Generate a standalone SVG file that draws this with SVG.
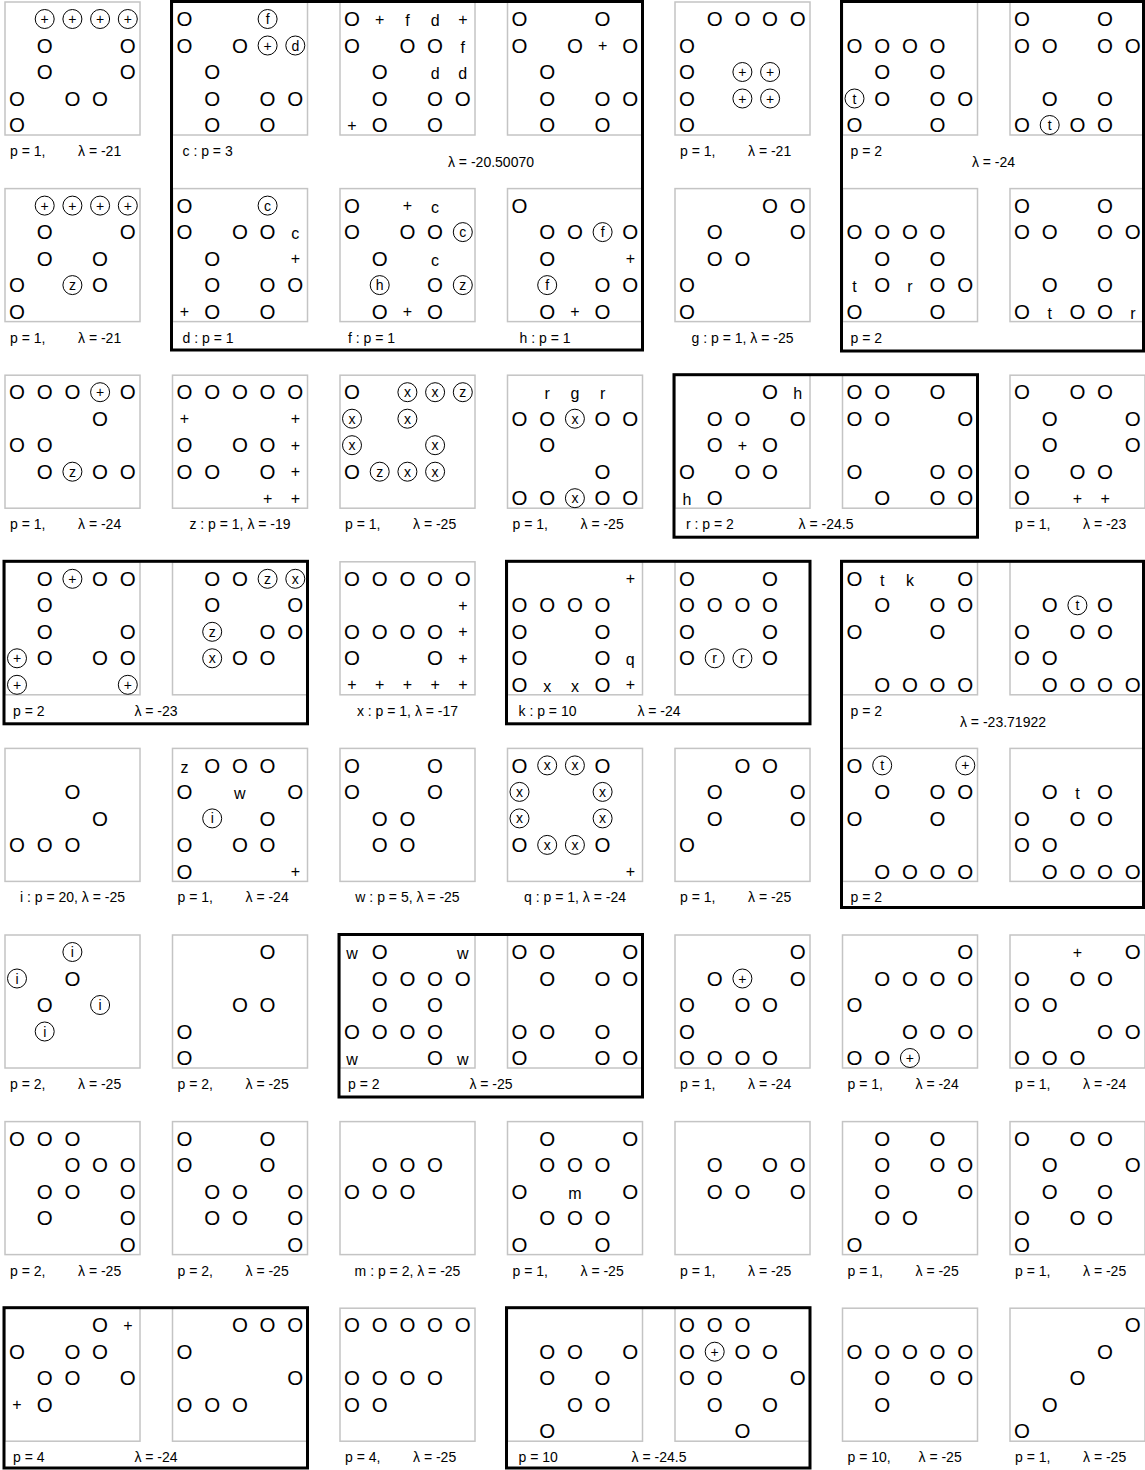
<svg xmlns="http://www.w3.org/2000/svg" width="1145" height="1470" viewBox="0 0 1145 1470">
<style>
text{font-family:"Liberation Sans",Arial,sans-serif;fill:#000}
.o{font-size:20.5px;text-anchor:middle}
.p{font-size:16px;text-anchor:middle;dominant-baseline:central}
.l{font-size:16px;text-anchor:middle}
.c{fill:#fff;stroke:#000;stroke-width:1}
.t{font-size:14px;text-anchor:middle;dominant-baseline:central}
.lb{font-size:14px}
.m{text-anchor:middle}
.b{fill:#fff;stroke:#c4c4c4;stroke-width:1.5}
.f{fill:none;stroke:#000;stroke-width:3}
</style>
<rect width="1145" height="1470" fill="#fff"/>
<g id="nodes">
<!-- Row 1 -->
<g id="r1c1" transform="translate(5,2)"><rect class="b" width="135" height="133"/>
<circle class="c" cx="39.7" cy="17" r="9.5"/><text class="t" x="39.7" y="17">+</text>
<circle class="c" cx="67.4" cy="17" r="9.5"/><text class="t" x="67.4" y="17">+</text>
<circle class="c" cx="95.1" cy="17" r="9.5"/><text class="t" x="95.1" y="17">+</text>
<circle class="c" cx="122.8" cy="17" r="9.5"/><text class="t" x="122.8" y="17">+</text>
<text class="o" x="39.7" y="50.7">O</text><text class="o" x="122.8" y="50.7">O</text>
<text class="o" x="39.7" y="77.2">O</text><text class="o" x="122.8" y="77.2">O</text>
<text class="o" x="12" y="103.7">O</text><text class="o" x="67.4" y="103.7">O</text><text class="o" x="95.1" y="103.7">O</text>
<text class="o" x="12" y="130.2">O</text>
<text class="lb" x="5" y="154">p = 1,</text><text class="lb" x="73" y="154">λ = -21</text>
</g>
<g id="r1c2" transform="translate(172.5,2)"><rect class="b" width="135" height="133"/>
<text class="o" x="12" y="24.2">O</text><circle class="c" cx="95.1" cy="17" r="9.5"/><text class="t" x="95.1" y="17">f</text>
<text class="o" x="12" y="50.7">O</text><text class="o" x="67.4" y="50.7">O</text><circle class="c" cx="95.1" cy="43.5" r="9.5"/><text class="t" x="95.1" y="43.5">+</text><circle class="c" cx="122.8" cy="43.5" r="9.5"/><text class="t" x="122.8" y="43.5">d</text>
<text class="o" x="39.7" y="77.2">O</text>
<text class="o" x="39.7" y="103.7">O</text><text class="o" x="95.1" y="103.7">O</text><text class="o" x="122.8" y="103.7">O</text>
<text class="o" x="39.7" y="130.2">O</text><text class="o" x="95.1" y="130.2">O</text>
<text class="lb" x="10" y="154">c : p = 3</text>
</g>
<g id="r1c3" transform="translate(340,2)"><rect class="b" width="135" height="133"/>
<text class="o" x="12" y="24.2">O</text><text class="p" x="39.7" y="17">+</text><text class="l" x="67.4" y="24.2">f</text><text class="l" x="95.1" y="24.2">d</text><text class="p" x="122.8" y="17">+</text>
<text class="o" x="12" y="50.7">O</text><text class="o" x="67.4" y="50.7">O</text><text class="o" x="95.1" y="50.7">O</text><text class="l" x="122.8" y="50.7">f</text>
<text class="o" x="39.7" y="77.2">O</text><text class="l" x="95.1" y="77.2">d</text><text class="l" x="122.8" y="77.2">d</text>
<text class="o" x="39.7" y="103.7">O</text><text class="o" x="95.1" y="103.7">O</text><text class="o" x="122.8" y="103.7">O</text>
<text class="p" x="12" y="123">+</text><text class="o" x="39.7" y="130.2">O</text><text class="o" x="95.1" y="130.2">O</text>
</g>
<g id="r1c4" transform="translate(507.5,2)"><rect class="b" width="135" height="133"/>
<text class="o" x="12" y="24.2">O</text><text class="o" x="95.1" y="24.2">O</text>
<text class="o" x="12" y="50.7">O</text><text class="o" x="67.4" y="50.7">O</text><text class="p" x="95.1" y="43.5">+</text><text class="o" x="122.8" y="50.7">O</text>
<text class="o" x="39.7" y="77.2">O</text>
<text class="o" x="39.7" y="103.7">O</text><text class="o" x="95.1" y="103.7">O</text><text class="o" x="122.8" y="103.7">O</text>
<text class="o" x="39.7" y="130.2">O</text><text class="o" x="95.1" y="130.2">O</text>
</g>
<g id="r1c5" transform="translate(675,2)"><rect class="b" width="135" height="133"/>
<text class="o" x="39.7" y="24.2">O</text><text class="o" x="67.4" y="24.2">O</text><text class="o" x="95.1" y="24.2">O</text><text class="o" x="122.8" y="24.2">O</text>
<text class="o" x="12" y="50.7">O</text>
<text class="o" x="12" y="77.2">O</text><circle class="c" cx="67.4" cy="70" r="9.5"/><text class="t" x="67.4" y="70">+</text><circle class="c" cx="95.1" cy="70" r="9.5"/><text class="t" x="95.1" y="70">+</text>
<text class="o" x="12" y="103.7">O</text><circle class="c" cx="67.4" cy="96.5" r="9.5"/><text class="t" x="67.4" y="96.5">+</text><circle class="c" cx="95.1" cy="96.5" r="9.5"/><text class="t" x="95.1" y="96.5">+</text>
<text class="o" x="12" y="130.2">O</text>
<text class="lb" x="5" y="154">p = 1,</text><text class="lb" x="73" y="154">λ = -21</text>
</g>
<g id="r1c6" transform="translate(842.5,2)"><rect class="b" width="135" height="133"/>
<text class="o" x="12" y="50.7">O</text><text class="o" x="39.7" y="50.7">O</text><text class="o" x="67.4" y="50.7">O</text><text class="o" x="95.1" y="50.7">O</text>
<text class="o" x="39.7" y="77.2">O</text><text class="o" x="95.1" y="77.2">O</text>
<circle class="c" cx="12" cy="96.5" r="9.5"/><text class="t" x="12" y="96.5">t</text><text class="o" x="39.7" y="103.7">O</text><text class="o" x="95.1" y="103.7">O</text><text class="o" x="122.8" y="103.7">O</text>
<text class="o" x="12" y="130.2">O</text><text class="o" x="95.1" y="130.2">O</text>
<text class="lb" x="8" y="154">p = 2</text>
</g>
<g id="r1c7" transform="translate(1010,2)"><rect class="b" width="135" height="133"/>
<text class="o" x="12" y="24.2">O</text><text class="o" x="95.1" y="24.2">O</text>
<text class="o" x="12" y="50.7">O</text><text class="o" x="39.7" y="50.7">O</text><text class="o" x="95.1" y="50.7">O</text><text class="o" x="122.8" y="50.7">O</text>
<text class="o" x="39.7" y="103.7">O</text><text class="o" x="95.1" y="103.7">O</text>
<text class="o" x="12" y="130.2">O</text><circle class="c" cx="39.7" cy="123" r="9.5"/><text class="t" x="39.7" y="123">t</text><text class="o" x="67.4" y="130.2">O</text><text class="o" x="95.1" y="130.2">O</text>
</g>
<!-- Row 2 -->
<g id="r2c1" transform="translate(5,188.6)"><rect class="b" width="135" height="133"/>
<circle class="c" cx="39.7" cy="17" r="9.5"/><text class="t" x="39.7" y="17">+</text>
<circle class="c" cx="67.4" cy="17" r="9.5"/><text class="t" x="67.4" y="17">+</text>
<circle class="c" cx="95.1" cy="17" r="9.5"/><text class="t" x="95.1" y="17">+</text>
<circle class="c" cx="122.8" cy="17" r="9.5"/><text class="t" x="122.8" y="17">+</text>
<text class="o" x="39.7" y="50.7">O</text><text class="o" x="122.8" y="50.7">O</text>
<text class="o" x="39.7" y="77.2">O</text><text class="o" x="95.1" y="77.2">O</text>
<text class="o" x="12" y="103.7">O</text><circle class="c" cx="67.4" cy="96.5" r="9.5"/><text class="t" x="67.4" y="96.5">z</text><text class="o" x="95.1" y="103.7">O</text>
<text class="o" x="12" y="130.2">O</text>
<text class="lb" x="5" y="154">p = 1,</text><text class="lb" x="73" y="154">λ = -21</text>
</g>
<g id="r2c2" transform="translate(172.5,188.6)"><rect class="b" width="135" height="133"/>
<text class="o" x="12" y="24.2">O</text><circle class="c" cx="95.1" cy="17" r="9.5"/><text class="t" x="95.1" y="17">c</text>
<text class="o" x="12" y="50.7">O</text><text class="o" x="67.4" y="50.7">O</text><text class="o" x="95.1" y="50.7">O</text><text class="l" x="122.8" y="50.7">c</text>
<text class="o" x="39.7" y="77.2">O</text><text class="p" x="122.8" y="70">+</text>
<text class="o" x="39.7" y="103.7">O</text><text class="o" x="95.1" y="103.7">O</text><text class="o" x="122.8" y="103.7">O</text>
<text class="p" x="12" y="123">+</text><text class="o" x="39.7" y="130.2">O</text><text class="o" x="95.1" y="130.2">O</text>
<text class="lb" x="10" y="154">d : p = 1</text>
</g>
<g id="r2c3" transform="translate(340,188.6)"><rect class="b" width="135" height="133"/>
<text class="o" x="12" y="24.2">O</text><text class="p" x="67.4" y="17">+</text><text class="l" x="95.1" y="24.2">c</text>
<text class="o" x="12" y="50.7">O</text><text class="o" x="67.4" y="50.7">O</text><text class="o" x="95.1" y="50.7">O</text><circle class="c" cx="122.8" cy="43.5" r="9.5"/><text class="t" x="122.8" y="43.5">c</text>
<text class="o" x="39.7" y="77.2">O</text><text class="l" x="95.1" y="77.2">c</text>
<circle class="c" cx="39.7" cy="96.5" r="9.5"/><text class="t" x="39.7" y="96.5">h</text><text class="o" x="95.1" y="103.7">O</text><circle class="c" cx="122.8" cy="96.5" r="9.5"/><text class="t" x="122.8" y="96.5">z</text>
<text class="o" x="39.7" y="130.2">O</text><text class="p" x="67.4" y="123">+</text><text class="o" x="95.1" y="130.2">O</text>
<text class="lb" x="8" y="154">f : p = 1</text>
</g>
<g id="r2c4" transform="translate(507.5,188.6)"><rect class="b" width="135" height="133"/>
<text class="o" x="12" y="24.2">O</text>
<text class="o" x="39.7" y="50.7">O</text><text class="o" x="67.4" y="50.7">O</text><circle class="c" cx="95.1" cy="43.5" r="9.5"/><text class="t" x="95.1" y="43.5">f</text><text class="o" x="122.8" y="50.7">O</text>
<text class="o" x="39.7" y="77.2">O</text><text class="p" x="122.8" y="70">+</text>
<circle class="c" cx="39.7" cy="96.5" r="9.5"/><text class="t" x="39.7" y="96.5">f</text><text class="o" x="95.1" y="103.7">O</text><text class="o" x="122.8" y="103.7">O</text>
<text class="o" x="39.7" y="130.2">O</text><text class="p" x="67.4" y="123">+</text><text class="o" x="95.1" y="130.2">O</text>
<text class="lb" x="12" y="154">h : p = 1</text>
</g>
<g id="r2c5" transform="translate(675,188.6)"><rect class="b" width="135" height="133"/>
<text class="o" x="95.1" y="24.2">O</text><text class="o" x="122.8" y="24.2">O</text>
<text class="o" x="39.7" y="50.7">O</text><text class="o" x="122.8" y="50.7">O</text>
<text class="o" x="39.7" y="77.2">O</text><text class="o" x="67.4" y="77.2">O</text>
<text class="o" x="12" y="103.7">O</text>
<text class="o" x="12" y="130.2">O</text>
<text class="lb m" x="67.5" y="154">g : p = 1, λ = -25</text>
</g>
<g id="r2c6" transform="translate(842.5,188.6)"><rect class="b" width="135" height="133"/>
<text class="o" x="12" y="50.7">O</text><text class="o" x="39.7" y="50.7">O</text><text class="o" x="67.4" y="50.7">O</text><text class="o" x="95.1" y="50.7">O</text>
<text class="o" x="39.7" y="77.2">O</text><text class="o" x="95.1" y="77.2">O</text>
<text class="l" x="12" y="103.7">t</text><text class="o" x="39.7" y="103.7">O</text><text class="l" x="67.4" y="103.7">r</text><text class="o" x="95.1" y="103.7">O</text><text class="o" x="122.8" y="103.7">O</text>
<text class="o" x="12" y="130.2">O</text><text class="o" x="95.1" y="130.2">O</text>
<text class="lb" x="8" y="154">p = 2</text>
</g>
<g id="r2c7" transform="translate(1010,188.6)"><rect class="b" width="135" height="133"/>
<text class="o" x="12" y="24.2">O</text><text class="o" x="95.1" y="24.2">O</text>
<text class="o" x="12" y="50.7">O</text><text class="o" x="39.7" y="50.7">O</text><text class="o" x="95.1" y="50.7">O</text><text class="o" x="122.8" y="50.7">O</text>
<text class="o" x="39.7" y="103.7">O</text><text class="o" x="95.1" y="103.7">O</text>
<text class="o" x="12" y="130.2">O</text><text class="l" x="39.7" y="130.2">t</text><text class="o" x="67.4" y="130.2">O</text><text class="o" x="95.1" y="130.2">O</text><text class="l" x="122.8" y="130.2">r</text>
</g>
<!-- Row 3 -->
<g id="r3c1" transform="translate(5,375.2)"><rect class="b" width="135" height="133"/>
<text class="o" x="12" y="24.2">O</text><text class="o" x="39.7" y="24.2">O</text><text class="o" x="67.4" y="24.2">O</text><circle class="c" cx="95.1" cy="17" r="9.5"/><text class="t" x="95.1" y="17">+</text><text class="o" x="122.8" y="24.2">O</text>
<text class="o" x="95.1" y="50.7">O</text>
<text class="o" x="12" y="77.2">O</text><text class="o" x="39.7" y="77.2">O</text>
<text class="o" x="39.7" y="103.7">O</text><circle class="c" cx="67.4" cy="96.5" r="9.5"/><text class="t" x="67.4" y="96.5">z</text><text class="o" x="95.1" y="103.7">O</text><text class="o" x="122.8" y="103.7">O</text>
<text class="lb" x="5" y="154">p = 1,</text><text class="lb" x="73" y="154">λ = -24</text>
</g>
<g id="r3c2" transform="translate(172.5,375.2)"><rect class="b" width="135" height="133"/>
<text class="o" x="12" y="24.2">O</text><text class="o" x="39.7" y="24.2">O</text><text class="o" x="67.4" y="24.2">O</text><text class="o" x="95.1" y="24.2">O</text><text class="o" x="122.8" y="24.2">O</text>
<text class="p" x="12" y="43.5">+</text><text class="p" x="122.8" y="43.5">+</text>
<text class="o" x="12" y="77.2">O</text><text class="o" x="67.4" y="77.2">O</text><text class="o" x="95.1" y="77.2">O</text><text class="p" x="122.8" y="70">+</text>
<text class="o" x="12" y="103.7">O</text><text class="o" x="39.7" y="103.7">O</text><text class="o" x="95.1" y="103.7">O</text><text class="p" x="122.8" y="96.5">+</text>
<text class="p" x="95.1" y="123">+</text><text class="p" x="122.8" y="123">+</text>
<text class="lb m" x="67.5" y="154">z : p = 1, λ = -19</text>
</g>
<g id="r3c3" transform="translate(340,375.2)"><rect class="b" width="135" height="133"/>
<text class="o" x="12" y="24.2">O</text><circle class="c" cx="67.4" cy="17" r="9.5"/><text class="t" x="67.4" y="17">x</text><circle class="c" cx="95.1" cy="17" r="9.5"/><text class="t" x="95.1" y="17">x</text><circle class="c" cx="122.8" cy="17" r="9.5"/><text class="t" x="122.8" y="17">z</text>
<circle class="c" cx="12" cy="43.5" r="9.5"/><text class="t" x="12" y="43.5">x</text><circle class="c" cx="67.4" cy="43.5" r="9.5"/><text class="t" x="67.4" y="43.5">x</text>
<circle class="c" cx="12" cy="70" r="9.5"/><text class="t" x="12" y="70">x</text><circle class="c" cx="95.1" cy="70" r="9.5"/><text class="t" x="95.1" y="70">x</text>
<text class="o" x="12" y="103.7">O</text><circle class="c" cx="39.7" cy="96.5" r="9.5"/><text class="t" x="39.7" y="96.5">z</text><circle class="c" cx="67.4" cy="96.5" r="9.5"/><text class="t" x="67.4" y="96.5">x</text><circle class="c" cx="95.1" cy="96.5" r="9.5"/><text class="t" x="95.1" y="96.5">x</text>
<text class="lb" x="5" y="154">p = 1,</text><text class="lb" x="73" y="154">λ = -25</text>
</g>
<g id="r3c4" transform="translate(507.5,375.2)"><rect class="b" width="135" height="133"/>
<text class="l" x="39.7" y="24.2">r</text><text class="l" x="67.4" y="24.2">g</text><text class="l" x="95.1" y="24.2">r</text>
<text class="o" x="12" y="50.7">O</text><text class="o" x="39.7" y="50.7">O</text><circle class="c" cx="67.4" cy="43.5" r="9.5"/><text class="t" x="67.4" y="43.5">x</text><text class="o" x="95.1" y="50.7">O</text><text class="o" x="122.8" y="50.7">O</text>
<text class="o" x="39.7" y="77.2">O</text>
<text class="o" x="95.1" y="103.7">O</text>
<text class="o" x="12" y="130.2">O</text><text class="o" x="39.7" y="130.2">O</text><circle class="c" cx="67.4" cy="123" r="9.5"/><text class="t" x="67.4" y="123">x</text><text class="o" x="95.1" y="130.2">O</text><text class="o" x="122.8" y="130.2">O</text>
<text class="lb" x="5" y="154">p = 1,</text><text class="lb" x="73" y="154">λ = -25</text>
</g>
<g id="r3c5" transform="translate(675,375.2)"><rect class="b" width="135" height="133"/>
<text class="o" x="95.1" y="24.2">O</text><text class="l" x="122.8" y="24.2">h</text>
<text class="o" x="39.7" y="50.7">O</text><text class="o" x="67.4" y="50.7">O</text><text class="o" x="122.8" y="50.7">O</text>
<text class="o" x="39.7" y="77.2">O</text><text class="p" x="67.4" y="70">+</text><text class="o" x="95.1" y="77.2">O</text>
<text class="o" x="12" y="103.7">O</text><text class="o" x="67.4" y="103.7">O</text><text class="o" x="95.1" y="103.7">O</text>
<text class="l" x="12" y="130.2">h</text><text class="o" x="39.7" y="130.2">O</text>
<text class="lb" x="11" y="154">r : p = 2</text>
</g>
<g id="r3c6" transform="translate(842.5,375.2)"><rect class="b" width="135" height="133"/>
<text class="o" x="12" y="24.2">O</text><text class="o" x="39.7" y="24.2">O</text><text class="o" x="95.1" y="24.2">O</text>
<text class="o" x="12" y="50.7">O</text><text class="o" x="39.7" y="50.7">O</text><text class="o" x="122.8" y="50.7">O</text>
<text class="o" x="12" y="103.7">O</text><text class="o" x="95.1" y="103.7">O</text><text class="o" x="122.8" y="103.7">O</text>
<text class="o" x="39.7" y="130.2">O</text><text class="o" x="95.1" y="130.2">O</text><text class="o" x="122.8" y="130.2">O</text>
</g>
<g id="r3c7" transform="translate(1010,375.2)"><rect class="b" width="135" height="133"/>
<text class="o" x="12" y="24.2">O</text><text class="o" x="67.4" y="24.2">O</text><text class="o" x="95.1" y="24.2">O</text>
<text class="o" x="39.7" y="50.7">O</text><text class="o" x="122.8" y="50.7">O</text>
<text class="o" x="39.7" y="77.2">O</text><text class="o" x="122.8" y="77.2">O</text>
<text class="o" x="12" y="103.7">O</text><text class="o" x="67.4" y="103.7">O</text><text class="o" x="95.1" y="103.7">O</text>
<text class="o" x="12" y="130.2">O</text><text class="p" x="67.4" y="123">+</text><text class="p" x="95.1" y="123">+</text>
<text class="lb" x="5" y="154">p = 1,</text><text class="lb" x="73" y="154">λ = -23</text>
</g>
<!-- Row 4 -->
<g id="r4c1" transform="translate(5,561.8)"><rect class="b" width="135" height="133"/>
<text class="o" x="39.7" y="24.2">O</text><circle class="c" cx="67.4" cy="17" r="9.5"/><text class="t" x="67.4" y="17">+</text><text class="o" x="95.1" y="24.2">O</text><text class="o" x="122.8" y="24.2">O</text>
<text class="o" x="39.7" y="50.7">O</text>
<text class="o" x="39.7" y="77.2">O</text><text class="o" x="122.8" y="77.2">O</text>
<circle class="c" cx="12" cy="96.5" r="9.5"/><text class="t" x="12" y="96.5">+</text><text class="o" x="39.7" y="103.7">O</text><text class="o" x="95.1" y="103.7">O</text><text class="o" x="122.8" y="103.7">O</text>
<circle class="c" cx="12" cy="123" r="9.5"/><text class="t" x="12" y="123">+</text><circle class="c" cx="122.8" cy="123" r="9.5"/><text class="t" x="122.8" y="123">+</text>
<text class="lb" x="8" y="154">p = 2</text>
</g>
<g id="r4c2" transform="translate(172.5,561.8)"><rect class="b" width="135" height="133"/>
<text class="o" x="39.7" y="24.2">O</text><text class="o" x="67.4" y="24.2">O</text><circle class="c" cx="95.1" cy="17" r="9.5"/><text class="t" x="95.1" y="17">z</text><circle class="c" cx="122.8" cy="17" r="9.5"/><text class="t" x="122.8" y="17">x</text>
<text class="o" x="39.7" y="50.7">O</text><text class="o" x="122.8" y="50.7">O</text>
<circle class="c" cx="39.7" cy="70" r="9.5"/><text class="t" x="39.7" y="70">z</text><text class="o" x="95.1" y="77.2">O</text><text class="o" x="122.8" y="77.2">O</text>
<circle class="c" cx="39.7" cy="96.5" r="9.5"/><text class="t" x="39.7" y="96.5">x</text><text class="o" x="67.4" y="103.7">O</text><text class="o" x="95.1" y="103.7">O</text>
</g>
<g id="r4c3" transform="translate(340,561.8)"><rect class="b" width="135" height="133"/>
<text class="o" x="12" y="24.2">O</text><text class="o" x="39.7" y="24.2">O</text><text class="o" x="67.4" y="24.2">O</text><text class="o" x="95.1" y="24.2">O</text><text class="o" x="122.8" y="24.2">O</text>
<text class="p" x="122.8" y="43.5">+</text>
<text class="o" x="12" y="77.2">O</text><text class="o" x="39.7" y="77.2">O</text><text class="o" x="67.4" y="77.2">O</text><text class="o" x="95.1" y="77.2">O</text><text class="p" x="122.8" y="70">+</text>
<text class="o" x="12" y="103.7">O</text><text class="o" x="95.1" y="103.7">O</text><text class="p" x="122.8" y="96.5">+</text>
<text class="p" x="12" y="123">+</text><text class="p" x="39.7" y="123">+</text><text class="p" x="67.4" y="123">+</text><text class="p" x="95.1" y="123">+</text><text class="p" x="122.8" y="123">+</text>
<text class="lb m" x="67.5" y="154">x : p = 1, λ = -17</text>
</g>
<g id="r4c4" transform="translate(507.5,561.8)"><rect class="b" width="135" height="133"/>
<text class="p" x="122.8" y="17">+</text>
<text class="o" x="12" y="50.7">O</text><text class="o" x="39.7" y="50.7">O</text><text class="o" x="67.4" y="50.7">O</text><text class="o" x="95.1" y="50.7">O</text>
<text class="o" x="12" y="77.2">O</text><text class="o" x="95.1" y="77.2">O</text>
<text class="o" x="12" y="103.7">O</text><text class="o" x="95.1" y="103.7">O</text><text class="l" x="122.8" y="103.7">q</text>
<text class="o" x="12" y="130.2">O</text><text class="l" x="39.7" y="130.2">x</text><text class="l" x="67.4" y="130.2">x</text><text class="o" x="95.1" y="130.2">O</text><text class="p" x="122.8" y="123">+</text>
<text class="lb" x="11" y="154">k : p = 10</text>
</g>
<g id="r4c5" transform="translate(675,561.8)"><rect class="b" width="135" height="133"/>
<text class="o" x="12" y="24.2">O</text><text class="o" x="95.1" y="24.2">O</text>
<text class="o" x="12" y="50.7">O</text><text class="o" x="39.7" y="50.7">O</text><text class="o" x="67.4" y="50.7">O</text><text class="o" x="95.1" y="50.7">O</text>
<text class="o" x="12" y="77.2">O</text><text class="o" x="95.1" y="77.2">O</text>
<text class="o" x="12" y="103.7">O</text><circle class="c" cx="39.7" cy="96.5" r="9.5"/><text class="t" x="39.7" y="96.5">r</text><circle class="c" cx="67.4" cy="96.5" r="9.5"/><text class="t" x="67.4" y="96.5">r</text><text class="o" x="95.1" y="103.7">O</text>
</g>
<g id="r4c6" transform="translate(842.5,561.8)"><rect class="b" width="135" height="133"/>
<text class="o" x="12" y="24.2">O</text><text class="l" x="39.7" y="24.2">t</text><text class="l" x="67.4" y="24.2">k</text><text class="o" x="122.8" y="24.2">O</text>
<text class="o" x="39.7" y="50.7">O</text><text class="o" x="95.1" y="50.7">O</text><text class="o" x="122.8" y="50.7">O</text>
<text class="o" x="12" y="77.2">O</text><text class="o" x="95.1" y="77.2">O</text>
<text class="o" x="39.7" y="130.2">O</text><text class="o" x="67.4" y="130.2">O</text><text class="o" x="95.1" y="130.2">O</text><text class="o" x="122.8" y="130.2">O</text>
<text class="lb" x="8" y="154">p = 2</text>
</g>
<g id="r4c7" transform="translate(1010,561.8)"><rect class="b" width="135" height="133"/>
<text class="o" x="39.7" y="50.7">O</text><circle class="c" cx="67.4" cy="43.5" r="9.5"/><text class="t" x="67.4" y="43.5">t</text><text class="o" x="95.1" y="50.7">O</text>
<text class="o" x="12" y="77.2">O</text><text class="o" x="67.4" y="77.2">O</text><text class="o" x="95.1" y="77.2">O</text>
<text class="o" x="12" y="103.7">O</text><text class="o" x="39.7" y="103.7">O</text>
<text class="o" x="39.7" y="130.2">O</text><text class="o" x="67.4" y="130.2">O</text><text class="o" x="95.1" y="130.2">O</text><text class="o" x="122.8" y="130.2">O</text>
</g>
<!-- Row 5 -->
<g id="r5c1" transform="translate(5,748.4)"><rect class="b" width="135" height="133"/>
<text class="o" x="67.4" y="50.7">O</text>
<text class="o" x="95.1" y="77.2">O</text>
<text class="o" x="12" y="103.7">O</text><text class="o" x="39.7" y="103.7">O</text><text class="o" x="67.4" y="103.7">O</text>
<text class="lb m" x="67.5" y="154">i : p = 20, λ = -25</text>
</g>
<g id="r5c2" transform="translate(172.5,748.4)"><rect class="b" width="135" height="133"/>
<text class="l" x="12" y="24.2">z</text><text class="o" x="39.7" y="24.2">O</text><text class="o" x="67.4" y="24.2">O</text><text class="o" x="95.1" y="24.2">O</text>
<text class="o" x="12" y="50.7">O</text><text class="l" x="67.4" y="50.7">w</text><text class="o" x="122.8" y="50.7">O</text>
<circle class="c" cx="39.7" cy="70" r="9.5"/><text class="t" x="39.7" y="70">i</text><text class="o" x="95.1" y="77.2">O</text>
<text class="o" x="12" y="103.7">O</text><text class="o" x="67.4" y="103.7">O</text><text class="o" x="95.1" y="103.7">O</text>
<text class="o" x="12" y="130.2">O</text><text class="p" x="122.8" y="123">+</text>
<text class="lb" x="5" y="154">p = 1,</text><text class="lb" x="73" y="154">λ = -24</text>
</g>
<g id="r5c3" transform="translate(340,748.4)"><rect class="b" width="135" height="133"/>
<text class="o" x="12" y="24.2">O</text><text class="o" x="95.1" y="24.2">O</text>
<text class="o" x="12" y="50.7">O</text><text class="o" x="95.1" y="50.7">O</text>
<text class="o" x="39.7" y="77.2">O</text><text class="o" x="67.4" y="77.2">O</text>
<text class="o" x="39.7" y="103.7">O</text><text class="o" x="67.4" y="103.7">O</text>
<text class="lb m" x="67.5" y="154">w : p = 5, λ = -25</text>
</g>
<g id="r5c4" transform="translate(507.5,748.4)"><rect class="b" width="135" height="133"/>
<text class="o" x="12" y="24.2">O</text><circle class="c" cx="39.7" cy="17" r="9.5"/><text class="t" x="39.7" y="17">x</text><circle class="c" cx="67.4" cy="17" r="9.5"/><text class="t" x="67.4" y="17">x</text><text class="o" x="95.1" y="24.2">O</text>
<circle class="c" cx="12" cy="43.5" r="9.5"/><text class="t" x="12" y="43.5">x</text><circle class="c" cx="95.1" cy="43.5" r="9.5"/><text class="t" x="95.1" y="43.5">x</text>
<circle class="c" cx="12" cy="70" r="9.5"/><text class="t" x="12" y="70">x</text><circle class="c" cx="95.1" cy="70" r="9.5"/><text class="t" x="95.1" y="70">x</text>
<text class="o" x="12" y="103.7">O</text><circle class="c" cx="39.7" cy="96.5" r="9.5"/><text class="t" x="39.7" y="96.5">x</text><circle class="c" cx="67.4" cy="96.5" r="9.5"/><text class="t" x="67.4" y="96.5">x</text><text class="o" x="95.1" y="103.7">O</text>
<text class="p" x="122.8" y="123">+</text>
<text class="lb m" x="67.5" y="154">q : p = 1, λ = -24</text>
</g>
<g id="r5c5" transform="translate(675,748.4)"><rect class="b" width="135" height="133"/>
<text class="o" x="67.4" y="24.2">O</text><text class="o" x="95.1" y="24.2">O</text>
<text class="o" x="39.7" y="50.7">O</text><text class="o" x="122.8" y="50.7">O</text>
<text class="o" x="39.7" y="77.2">O</text><text class="o" x="122.8" y="77.2">O</text>
<text class="o" x="12" y="103.7">O</text>
<text class="lb" x="5" y="154">p = 1,</text><text class="lb" x="73" y="154">λ = -25</text>
</g>
<g id="r5c6" transform="translate(842.5,748.4)"><rect class="b" width="135" height="133"/>
<text class="o" x="12" y="24.2">O</text><circle class="c" cx="39.7" cy="17" r="9.5"/><text class="t" x="39.7" y="17">t</text><circle class="c" cx="122.8" cy="17" r="9.5"/><text class="t" x="122.8" y="17">+</text>
<text class="o" x="39.7" y="50.7">O</text><text class="o" x="95.1" y="50.7">O</text><text class="o" x="122.8" y="50.7">O</text>
<text class="o" x="12" y="77.2">O</text><text class="o" x="95.1" y="77.2">O</text>
<text class="o" x="39.7" y="130.2">O</text><text class="o" x="67.4" y="130.2">O</text><text class="o" x="95.1" y="130.2">O</text><text class="o" x="122.8" y="130.2">O</text>
<text class="lb" x="8" y="154">p = 2</text>
</g>
<g id="r5c7" transform="translate(1010,748.4)"><rect class="b" width="135" height="133"/>
<text class="o" x="39.7" y="50.7">O</text><text class="l" x="67.4" y="50.7">t</text><text class="o" x="95.1" y="50.7">O</text>
<text class="o" x="12" y="77.2">O</text><text class="o" x="67.4" y="77.2">O</text><text class="o" x="95.1" y="77.2">O</text>
<text class="o" x="12" y="103.7">O</text><text class="o" x="39.7" y="103.7">O</text>
<text class="o" x="39.7" y="130.2">O</text><text class="o" x="67.4" y="130.2">O</text><text class="o" x="95.1" y="130.2">O</text><text class="o" x="122.8" y="130.2">O</text>
</g>
<!-- Row 6 -->
<g id="r6c1" transform="translate(5,935)"><rect class="b" width="135" height="133"/>
<circle class="c" cx="67.4" cy="17" r="9.5"/><text class="t" x="67.4" y="17">i</text>
<circle class="c" cx="12" cy="43.5" r="9.5"/><text class="t" x="12" y="43.5">i</text><text class="o" x="67.4" y="50.7">O</text>
<text class="o" x="39.7" y="77.2">O</text><circle class="c" cx="95.1" cy="70" r="9.5"/><text class="t" x="95.1" y="70">i</text>
<circle class="c" cx="39.7" cy="96.5" r="9.5"/><text class="t" x="39.7" y="96.5">i</text>
<text class="lb" x="5" y="154">p = 2,</text><text class="lb" x="73" y="154">λ = -25</text>
</g>
<g id="r6c2" transform="translate(172.5,935)"><rect class="b" width="135" height="133"/>
<text class="o" x="95.1" y="24.2">O</text>
<text class="o" x="67.4" y="77.2">O</text><text class="o" x="95.1" y="77.2">O</text>
<text class="o" x="12" y="103.7">O</text>
<text class="o" x="12" y="130.2">O</text>
<text class="lb" x="5" y="154">p = 2,</text><text class="lb" x="73" y="154">λ = -25</text>
</g>
<g id="r6c3" transform="translate(340,935)"><rect class="b" width="135" height="133"/>
<text class="l" x="12" y="24.2">w</text><text class="o" x="39.7" y="24.2">O</text><text class="l" x="122.8" y="24.2">w</text>
<text class="o" x="39.7" y="50.7">O</text><text class="o" x="67.4" y="50.7">O</text><text class="o" x="95.1" y="50.7">O</text><text class="o" x="122.8" y="50.7">O</text>
<text class="o" x="39.7" y="77.2">O</text><text class="o" x="95.1" y="77.2">O</text>
<text class="o" x="12" y="103.7">O</text><text class="o" x="39.7" y="103.7">O</text><text class="o" x="67.4" y="103.7">O</text><text class="o" x="95.1" y="103.7">O</text>
<text class="l" x="12" y="130.2">w</text><text class="o" x="95.1" y="130.2">O</text><text class="l" x="122.8" y="130.2">w</text>
<text class="lb" x="8" y="154">p = 2</text>
</g>
<g id="r6c4" transform="translate(507.5,935)"><rect class="b" width="135" height="133"/>
<text class="o" x="12" y="24.2">O</text><text class="o" x="39.7" y="24.2">O</text><text class="o" x="122.8" y="24.2">O</text>
<text class="o" x="39.7" y="50.7">O</text><text class="o" x="95.1" y="50.7">O</text><text class="o" x="122.8" y="50.7">O</text>
<text class="o" x="12" y="103.7">O</text><text class="o" x="39.7" y="103.7">O</text><text class="o" x="95.1" y="103.7">O</text>
<text class="o" x="12" y="130.2">O</text><text class="o" x="95.1" y="130.2">O</text><text class="o" x="122.8" y="130.2">O</text>
</g>
<g id="r6c5" transform="translate(675,935)"><rect class="b" width="135" height="133"/>
<text class="o" x="122.8" y="24.2">O</text>
<text class="o" x="39.7" y="50.7">O</text><circle class="c" cx="67.4" cy="43.5" r="9.5"/><text class="t" x="67.4" y="43.5">+</text><text class="o" x="122.8" y="50.7">O</text>
<text class="o" x="12" y="77.2">O</text><text class="o" x="67.4" y="77.2">O</text><text class="o" x="95.1" y="77.2">O</text>
<text class="o" x="12" y="103.7">O</text>
<text class="o" x="12" y="130.2">O</text><text class="o" x="39.7" y="130.2">O</text><text class="o" x="67.4" y="130.2">O</text><text class="o" x="95.1" y="130.2">O</text>
<text class="lb" x="5" y="154">p = 1,</text><text class="lb" x="73" y="154">λ = -24</text>
</g>
<g id="r6c6" transform="translate(842.5,935)"><rect class="b" width="135" height="133"/>
<text class="o" x="122.8" y="24.2">O</text>
<text class="o" x="39.7" y="50.7">O</text><text class="o" x="67.4" y="50.7">O</text><text class="o" x="95.1" y="50.7">O</text><text class="o" x="122.8" y="50.7">O</text>
<text class="o" x="12" y="77.2">O</text>
<text class="o" x="67.4" y="103.7">O</text><text class="o" x="95.1" y="103.7">O</text><text class="o" x="122.8" y="103.7">O</text>
<text class="o" x="12" y="130.2">O</text><text class="o" x="39.7" y="130.2">O</text><circle class="c" cx="67.4" cy="123" r="9.5"/><text class="t" x="67.4" y="123">+</text>
<text class="lb" x="5" y="154">p = 1,</text><text class="lb" x="73" y="154">λ = -24</text>
</g>
<g id="r6c7" transform="translate(1010,935)"><rect class="b" width="135" height="133"/>
<text class="p" x="67.4" y="17">+</text><text class="o" x="122.8" y="24.2">O</text>
<text class="o" x="12" y="50.7">O</text><text class="o" x="67.4" y="50.7">O</text><text class="o" x="95.1" y="50.7">O</text>
<text class="o" x="12" y="77.2">O</text><text class="o" x="39.7" y="77.2">O</text>
<text class="o" x="95.1" y="103.7">O</text><text class="o" x="122.8" y="103.7">O</text>
<text class="o" x="12" y="130.2">O</text><text class="o" x="39.7" y="130.2">O</text><text class="o" x="67.4" y="130.2">O</text>
<text class="lb" x="5" y="154">p = 1,</text><text class="lb" x="73" y="154">λ = -24</text>
</g>
<!-- Row 7 -->
<g id="r7c1" transform="translate(5,1121.6)"><rect class="b" width="135" height="133"/>
<text class="o" x="12" y="24.2">O</text><text class="o" x="39.7" y="24.2">O</text><text class="o" x="67.4" y="24.2">O</text>
<text class="o" x="67.4" y="50.7">O</text><text class="o" x="95.1" y="50.7">O</text><text class="o" x="122.8" y="50.7">O</text>
<text class="o" x="39.7" y="77.2">O</text><text class="o" x="67.4" y="77.2">O</text><text class="o" x="122.8" y="77.2">O</text>
<text class="o" x="39.7" y="103.7">O</text><text class="o" x="122.8" y="103.7">O</text>
<text class="o" x="122.8" y="130.2">O</text>
<text class="lb" x="5" y="154">p = 2,</text><text class="lb" x="73" y="154">λ = -25</text>
</g>
<g id="r7c2" transform="translate(172.5,1121.6)"><rect class="b" width="135" height="133"/>
<text class="o" x="12" y="24.2">O</text><text class="o" x="95.1" y="24.2">O</text>
<text class="o" x="12" y="50.7">O</text><text class="o" x="95.1" y="50.7">O</text>
<text class="o" x="39.7" y="77.2">O</text><text class="o" x="67.4" y="77.2">O</text><text class="o" x="122.8" y="77.2">O</text>
<text class="o" x="39.7" y="103.7">O</text><text class="o" x="67.4" y="103.7">O</text><text class="o" x="122.8" y="103.7">O</text>
<text class="o" x="122.8" y="130.2">O</text>
<text class="lb" x="5" y="154">p = 2,</text><text class="lb" x="73" y="154">λ = -25</text>
</g>
<g id="r7c3" transform="translate(340,1121.6)"><rect class="b" width="135" height="133"/>
<text class="o" x="39.7" y="50.7">O</text><text class="o" x="67.4" y="50.7">O</text><text class="o" x="95.1" y="50.7">O</text>
<text class="o" x="12" y="77.2">O</text><text class="o" x="39.7" y="77.2">O</text><text class="o" x="67.4" y="77.2">O</text>
<text class="lb m" x="67.5" y="154">m : p = 2, λ = -25</text>
</g>
<g id="r7c4" transform="translate(507.5,1121.6)"><rect class="b" width="135" height="133"/>
<text class="o" x="39.7" y="24.2">O</text><text class="o" x="122.8" y="24.2">O</text>
<text class="o" x="39.7" y="50.7">O</text><text class="o" x="67.4" y="50.7">O</text><text class="o" x="95.1" y="50.7">O</text>
<text class="o" x="12" y="77.2">O</text><text class="l" x="67.4" y="77.2">m</text><text class="o" x="122.8" y="77.2">O</text>
<text class="o" x="39.7" y="103.7">O</text><text class="o" x="67.4" y="103.7">O</text><text class="o" x="95.1" y="103.7">O</text>
<text class="o" x="12" y="130.2">O</text><text class="o" x="95.1" y="130.2">O</text>
<text class="lb" x="5" y="154">p = 1,</text><text class="lb" x="73" y="154">λ = -25</text>
</g>
<g id="r7c5" transform="translate(675,1121.6)"><rect class="b" width="135" height="133"/>
<text class="o" x="39.7" y="50.7">O</text><text class="o" x="95.1" y="50.7">O</text><text class="o" x="122.8" y="50.7">O</text>
<text class="o" x="39.7" y="77.2">O</text><text class="o" x="67.4" y="77.2">O</text><text class="o" x="122.8" y="77.2">O</text>
<text class="lb" x="5" y="154">p = 1,</text><text class="lb" x="73" y="154">λ = -25</text>
</g>
<g id="r7c6" transform="translate(842.5,1121.6)"><rect class="b" width="135" height="133"/>
<text class="o" x="39.7" y="24.2">O</text><text class="o" x="95.1" y="24.2">O</text>
<text class="o" x="39.7" y="50.7">O</text><text class="o" x="95.1" y="50.7">O</text><text class="o" x="122.8" y="50.7">O</text>
<text class="o" x="39.7" y="77.2">O</text><text class="o" x="122.8" y="77.2">O</text>
<text class="o" x="39.7" y="103.7">O</text><text class="o" x="67.4" y="103.7">O</text>
<text class="o" x="12" y="130.2">O</text>
<text class="lb" x="5" y="154">p = 1,</text><text class="lb" x="73" y="154">λ = -25</text>
</g>
<g id="r7c7" transform="translate(1010,1121.6)"><rect class="b" width="135" height="133"/>
<text class="o" x="12" y="24.2">O</text><text class="o" x="67.4" y="24.2">O</text><text class="o" x="95.1" y="24.2">O</text>
<text class="o" x="39.7" y="50.7">O</text><text class="o" x="122.8" y="50.7">O</text>
<text class="o" x="39.7" y="77.2">O</text><text class="o" x="95.1" y="77.2">O</text>
<text class="o" x="12" y="103.7">O</text><text class="o" x="67.4" y="103.7">O</text><text class="o" x="95.1" y="103.7">O</text>
<text class="o" x="12" y="130.2">O</text>
<text class="lb" x="5" y="154">p = 1,</text><text class="lb" x="73" y="154">λ = -25</text>
</g>
<!-- Row 8 -->
<g id="r8c1" transform="translate(5,1308.2)"><rect class="b" width="135" height="133"/>
<text class="o" x="95.1" y="24.2">O</text><text class="p" x="122.8" y="17">+</text>
<text class="o" x="12" y="50.7">O</text><text class="o" x="67.4" y="50.7">O</text><text class="o" x="95.1" y="50.7">O</text>
<text class="o" x="39.7" y="77.2">O</text><text class="o" x="67.4" y="77.2">O</text><text class="o" x="122.8" y="77.2">O</text>
<text class="p" x="12" y="96.5">+</text><text class="o" x="39.7" y="103.7">O</text>
<text class="lb" x="8" y="154">p = 4</text>
</g>
<g id="r8c2" transform="translate(172.5,1308.2)"><rect class="b" width="135" height="133"/>
<text class="o" x="67.4" y="24.2">O</text><text class="o" x="95.1" y="24.2">O</text><text class="o" x="122.8" y="24.2">O</text>
<text class="o" x="12" y="50.7">O</text>
<text class="o" x="122.8" y="77.2">O</text>
<text class="o" x="12" y="103.7">O</text><text class="o" x="39.7" y="103.7">O</text><text class="o" x="67.4" y="103.7">O</text>
</g>
<g id="r8c3" transform="translate(340,1308.2)"><rect class="b" width="135" height="133"/>
<text class="o" x="12" y="24.2">O</text><text class="o" x="39.7" y="24.2">O</text><text class="o" x="67.4" y="24.2">O</text><text class="o" x="95.1" y="24.2">O</text><text class="o" x="122.8" y="24.2">O</text>
<text class="o" x="12" y="77.2">O</text><text class="o" x="39.7" y="77.2">O</text><text class="o" x="67.4" y="77.2">O</text><text class="o" x="95.1" y="77.2">O</text>
<text class="o" x="12" y="103.7">O</text><text class="o" x="39.7" y="103.7">O</text>
<text class="lb" x="5" y="154">p = 4,</text><text class="lb" x="73" y="154">λ = -25</text>
</g>
<g id="r8c4" transform="translate(507.5,1308.2)"><rect class="b" width="135" height="133"/>
<text class="o" x="39.7" y="50.7">O</text><text class="o" x="67.4" y="50.7">O</text><text class="o" x="122.8" y="50.7">O</text>
<text class="o" x="39.7" y="77.2">O</text><text class="o" x="95.1" y="77.2">O</text>
<text class="o" x="67.4" y="103.7">O</text><text class="o" x="95.1" y="103.7">O</text>
<text class="o" x="39.7" y="130.2">O</text>
<text class="lb" x="11" y="154">p = 10</text>
</g>
<g id="r8c5" transform="translate(675,1308.2)"><rect class="b" width="135" height="133"/>
<text class="o" x="12" y="24.2">O</text><text class="o" x="39.7" y="24.2">O</text><text class="o" x="67.4" y="24.2">O</text>
<text class="o" x="12" y="50.7">O</text><circle class="c" cx="39.7" cy="43.5" r="9.5"/><text class="t" x="39.7" y="43.5">+</text><text class="o" x="67.4" y="50.7">O</text><text class="o" x="95.1" y="50.7">O</text>
<text class="o" x="12" y="77.2">O</text><text class="o" x="39.7" y="77.2">O</text><text class="o" x="122.8" y="77.2">O</text>
<text class="o" x="39.7" y="103.7">O</text><text class="o" x="95.1" y="103.7">O</text>
<text class="o" x="67.4" y="130.2">O</text>
</g>
<g id="r8c6" transform="translate(842.5,1308.2)"><rect class="b" width="135" height="133"/>
<text class="o" x="12" y="50.7">O</text><text class="o" x="39.7" y="50.7">O</text><text class="o" x="67.4" y="50.7">O</text><text class="o" x="95.1" y="50.7">O</text><text class="o" x="122.8" y="50.7">O</text>
<text class="o" x="39.7" y="77.2">O</text><text class="o" x="95.1" y="77.2">O</text><text class="o" x="122.8" y="77.2">O</text>
<text class="o" x="39.7" y="103.7">O</text>
<text class="lb" x="5" y="154">p = 10,</text><text class="lb" x="76" y="154">λ = -25</text>
</g>
<g id="r8c7" transform="translate(1010,1308.2)"><rect class="b" width="135" height="133"/>
<text class="o" x="122.8" y="24.2">O</text>
<text class="o" x="95.1" y="50.7">O</text>
<text class="o" x="67.4" y="77.2">O</text>
<text class="o" x="39.7" y="103.7">O</text>
<text class="o" x="12" y="130.2">O</text>
<text class="lb" x="5" y="154">p = 1,</text><text class="lb" x="73" y="154">λ = -25</text>
</g>
</g>
<g id="groups">
<g id="groupA"><rect class="f" x="171.5" y="1.5" width="471" height="348.5"/><text class="lb m" x="491" y="167">λ = -20.50070</text></g>
<g id="groupB"><rect class="f" x="841.5" y="1.5" width="302" height="349.5"/><text class="lb m" x="993.5" y="167">λ = -24</text></g>
<g id="groupC"><rect class="f" x="674" y="374.7" width="303.5" height="162.5"/><text class="lb m" x="826" y="529.2">λ = -24.5</text></g>
<g id="groupD"><rect class="f" x="4" y="561.3" width="303.5" height="162.5"/><text class="lb m" x="156" y="715.8">λ = -23</text></g>
<g id="groupE"><rect class="f" x="506.5" y="561.3" width="303.5" height="162.5"/><text class="lb m" x="659" y="715.8">λ = -24</text></g>
<g id="groupF"><rect class="f" x="841.5" y="561.3" width="302" height="346.2"/><text class="lb m" x="1003" y="727">λ = -23.71922</text></g>
<g id="groupG"><rect class="f" x="339" y="934.5" width="303.5" height="162.5"/><text class="lb m" x="491" y="1089">λ = -25</text></g>
<g id="groupH"><rect class="f" x="4" y="1307.7" width="303.5" height="160.3"/><text class="lb m" x="156" y="1462.2">λ = -24</text></g>
<g id="groupI"><rect class="f" x="506.5" y="1307.7" width="303.5" height="160.3"/><text class="lb m" x="659" y="1462.2">λ = -24.5</text></g>
</g>
</svg>
